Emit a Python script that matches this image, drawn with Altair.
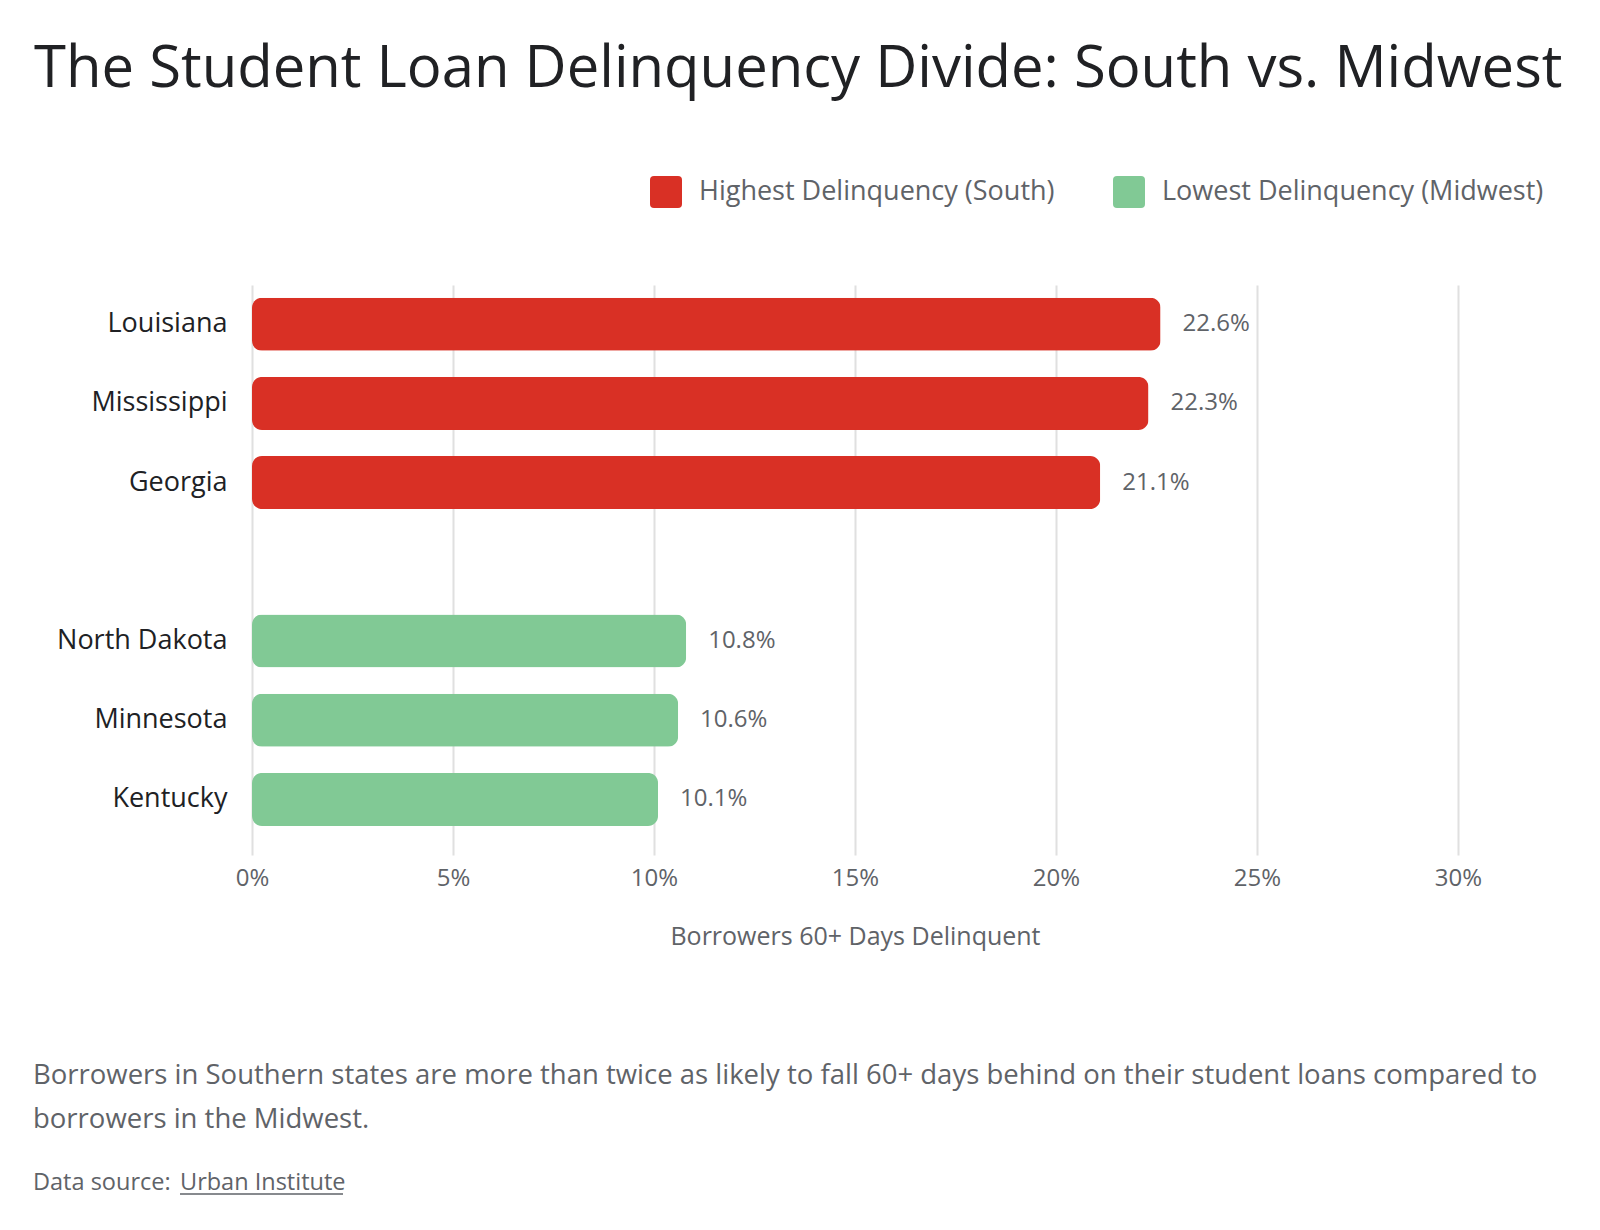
import altair as alt
import pandas as pd

states = ["Louisiana", "Mississippi", "Georgia", "North Dakota", "Minnesota", "Kentucky"]
rates = [22.6, 22.3, 21.1, 10.8, 10.6, 10.1]
groups = ["Highest Delinquency (South)"] * 3 + ["Lowest Delinquency (Midwest)"] * 3
group_order = ["Highest Delinquency (South)", "Lowest Delinquency (Midwest)"]
group_colors = ["#d93025", "#81c995"]
y_order = ["Louisiana", "Mississippi", "Georgia", " ", "North Dakota", "Minnesota", "Kentucky"]
x_ticks = [0, 5, 10, 15, 20, 25, 30]

title_text = "The Student Loan Delinquency Divide: South vs. Midwest"
caption_lines = [
    "Borrowers in Southern states are more than twice as likely to fall 60+ days behind on their student loans compared to",
    "borrowers in the Midwest.",
]
source_prefix = "Data source:"
source_link = "Urban Institute"
x_title = "Borrowers 60+ Days Delinquent"

df = pd.DataFrame({"state": states, "rate": rates, "group": groups})
df["label"] = [f"{v:.1f}%" for v in rates]

FONT = "Open Sans"
DARK = "#202124"
GRAY = "#5f6368"

rounded_square = ("M -0.75,-1 L 0.75,-1 Q 1,-1 1,-0.75 L 1,0.75 Q 1,1 0.75,1 "
                  "L -0.75,1 Q -1,1 -1,0.75 L -1,-0.75 Q -1,-1 -0.75,-1 Z")

y_enc = alt.Y("state:N", sort=y_order,
              scale=alt.Scale(domain=y_order, paddingInner=0.331, paddingOuter=0.264, align=0.304),
              axis=alt.Axis(title=None, ticks=False, domain=False, grid=False,
                            labelFontSize=27, labelColor=DARK, labelPadding=25, labelFont=FONT))

bars = alt.Chart(df).mark_bar(cornerRadius=10).encode(
    x=alt.X("rate:Q", scale=alt.Scale(domain=[0, 30], nice=False),
            axis=alt.Axis(values=x_ticks, labelExpr="datum.value + '%'", title=x_title,
                          grid=True, gridColor="#e0e0e0", gridWidth=2, domain=False, ticks=False,
                          labelFlush=False,
                          labelFontSize=24, labelColor=GRAY, labelPadding=11, labelFont=FONT,
                          titleFontSize=25, titleColor=GRAY, titleFontWeight="normal",
                          titlePadding=34, titleFont=FONT)),
    y=y_enc,
    color=alt.Color("group:N", scale=alt.Scale(domain=group_order, range=group_colors),
                    legend=alt.Legend(title=None, orient="none", direction="horizontal",
                                      legendX=398, legendY=-109, symbolType=rounded_square,
                                      symbolSize=1024, symbolStrokeWidth=0, symbolOpacity=1,
                                      labelFontSize=27, labelColor=GRAY, labelFont=FONT,
                                      labelLimit=0,
                                      labelOffset=17, columnPadding=58, padding=0)),
)

labels = alt.Chart(df).mark_text(align="left", baseline="middle", dx=22, fontSize=24,
                                 color=GRAY, font=FONT).encode(
    x="rate:Q", y=alt.Y("state:N", sort=y_order), text="label:N")

one = pd.DataFrame({"k": [0]})

title_mark = alt.Chart(one).mark_text(align="left", baseline="alphabetic", fontSize=58,
                                      color=DARK, font=FONT).encode(
    x=alt.value(-218), y=alt.value(-198), text=alt.value(title_text))

cap1 = alt.Chart(one).mark_text(align="left", baseline="alphabetic", fontSize=27.5,
                                color=GRAY, font=FONT).encode(
    x=alt.value(-219), y=alt.value(799), text=alt.value(caption_lines[0]))
cap2 = alt.Chart(one).mark_text(align="left", baseline="alphabetic", fontSize=27.5,
                                color=GRAY, font=FONT).encode(
    x=alt.value(-219), y=alt.value(843), text=alt.value(caption_lines[1]))
src = alt.Chart(one).mark_text(align="left", baseline="alphabetic", fontSize=23.5,
                               color=GRAY, font=FONT).encode(
    x=alt.value(-219), y=alt.value(905), text=alt.value(source_prefix))
link = alt.Chart(one).mark_text(align="left", baseline="alphabetic", fontSize=23.5,
                                color=GRAY, font=FONT).encode(
    x=alt.value(-72), y=alt.value(905), text=alt.value(source_link))
underline = alt.Chart(one).mark_rule(color=GRAY, strokeWidth=1.5).encode(
    x=alt.value(-72), x2=alt.value(91), y=alt.value(909))

chart = alt.layer(bars, labels, title_mark, cap1, cap2, src, link, underline).properties(
    width=1206, height=570,
    autosize=alt.AutoSizeParams(type="none"),
    padding={"left": 252, "top": 285, "right": 142, "bottom": 375},
    background="white",
).configure(font=FONT).configure_view(stroke=None, strokeWidth=0)

chart.save("out.html", embed_options={"renderer": "svg", "actions": False})
